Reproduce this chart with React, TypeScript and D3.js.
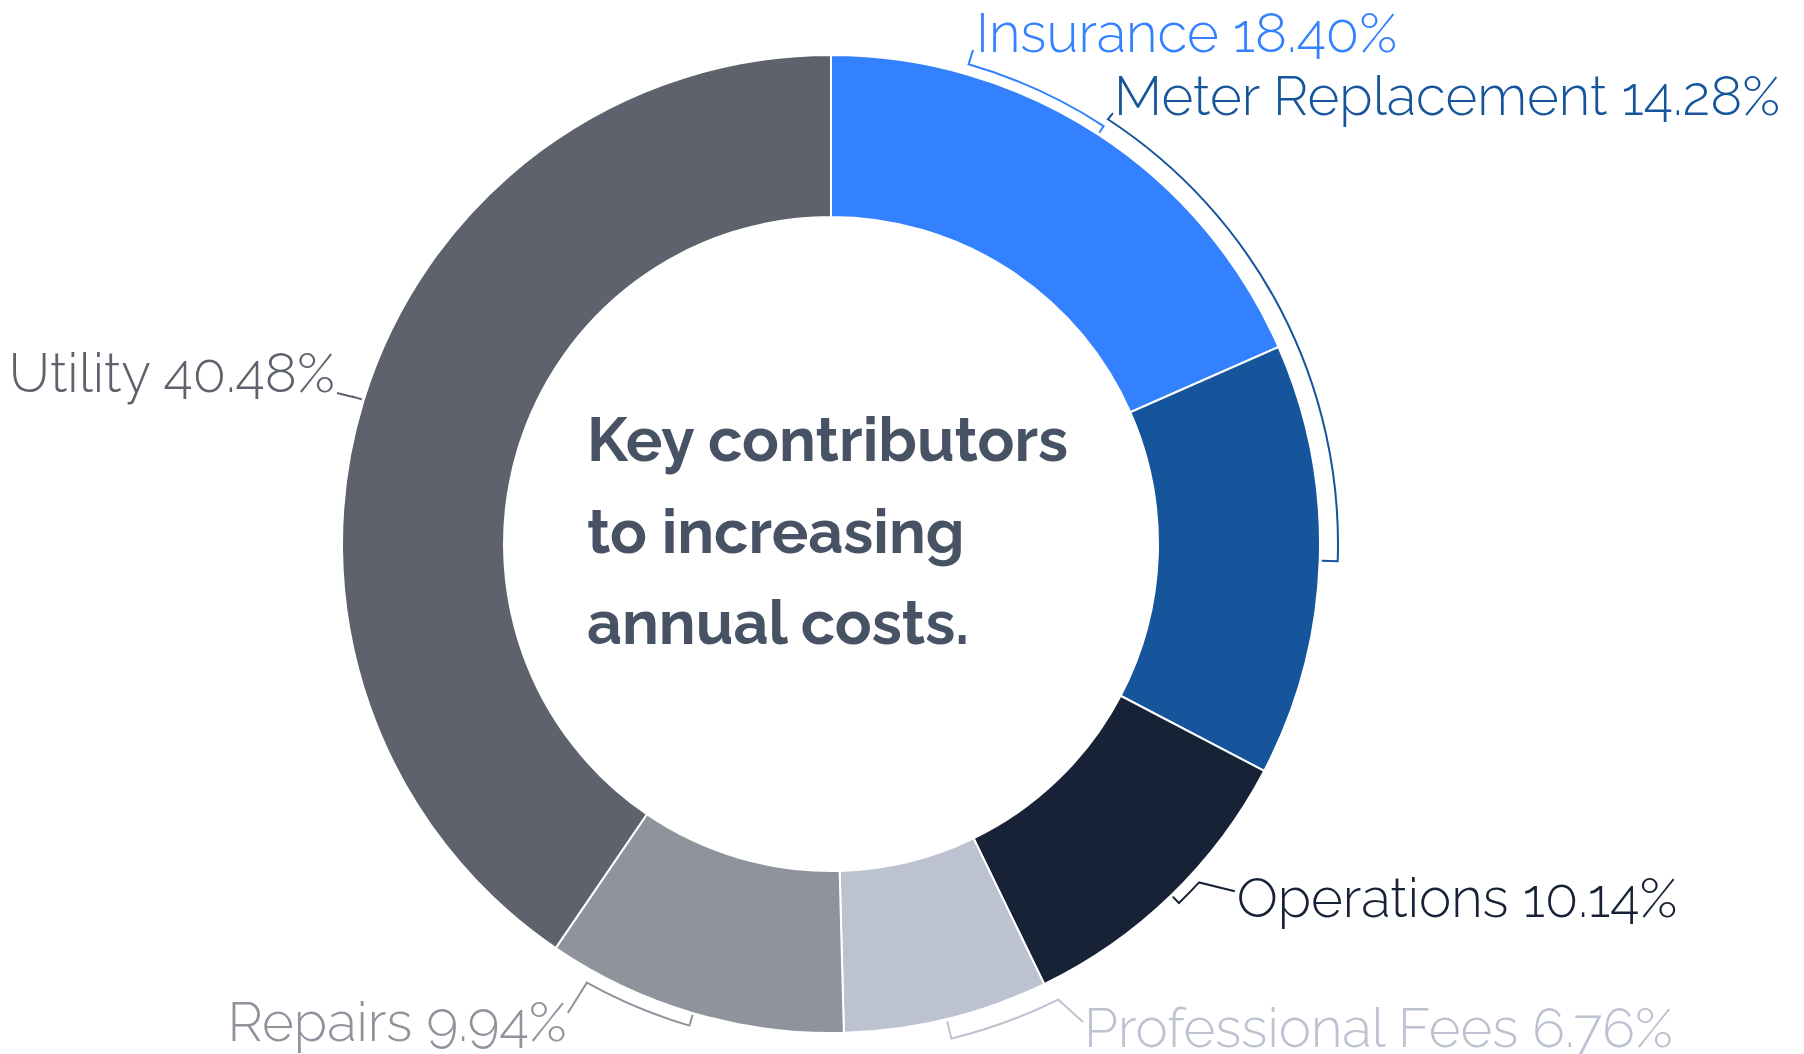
import React from "react";
import * as d3 from "d3";

const categories = ["Insurance", "Meter Replacement", "Operations", "Professional Fees", "Repairs", "Utility"];
const values = [18.40, 14.28, 10.14, 6.76, 9.94, 40.48];
const colors = ["#3381FF", "#16549B", "#172236", "#BCC2D0", "#8E939C", "#5D626C"];
const titleLines = ["Key contributors", "to increasing", "annual costs."];

// layout of the label brackets (angles in degrees, clockwise from top)
const anchorAngles = [16.0, 33.1, 132.6, 153.5, 209.1, 287.1];
const bracketRadii = [499, 507, 500, 509, 502, 500];
const connectorEnds = [
  [16.04, 514], [33.2, 515], [130.7, 532.6], [152.2, 540.4], [209.3, 537.7], [287.0, 516.6],
];
const textOffsets = [
  [3, 2, "start"], [1, 2, "start"], [2, 26, "start"], [1, 25, "start"], [-1, 28, "end"], [-2, -1, "end"],
];

const W = 1804, H = 1054;
const cx = 831, cy = 544;
const rOuter = 489, rInner = 327, tickInner = 491;

const rad = (d: number) => (d * Math.PI) / 180;
const pt = (aDeg: number, r: number): [number, number] => [r * Math.sin(rad(aDeg)), -r * Math.cos(rad(aDeg))];

export default function App() {
  const data = categories.map((c, i) => ({ name: c, value: values[i], color: colors[i] }));
  const pie = d3.pie<any>().sort(null).value((d) => d.value).startAngle(0).endAngle(2 * Math.PI);
  const arcs = pie(data);
  const arcGen = d3.arc<any>().innerRadius(rInner).outerRadius(rOuter);

  return (
    <svg width={W} height={H} style={{ position: "absolute", left: 0, top: 0, background: "#fff" }}>
      <g transform={`translate(${cx},${cy})`}>
        {arcs.map((a, i) => (
          <path key={i} d={arcGen(a) || ""} fill={a.data.color} stroke="#fff" strokeWidth={2} />
        ))}
        {arcs.map((a, i) => {
          const mid = ((a.startAngle + a.endAngle) / 2) * 180 / Math.PI;
          const anc = anchorAngles[i];
          const rb = bracketRadii[i];
          const path = d3.path();
          const t0 = pt(mid, tickInner);
          const t1 = pt(mid, rb);
          path.moveTo(t0[0], t0[1]);
          path.lineTo(t1[0], t1[1]);
          const a0 = rad(mid) - Math.PI / 2;
          const a1 = rad(anc) - Math.PI / 2;
          if (Math.abs(a1 - a0) > 1e-6) path.arc(0, 0, rb, a0, a1, a1 < a0);
          const ce = pt(connectorEnds[i][0], connectorEnds[i][1]);
          path.lineTo(ce[0], ce[1]);
          const off = textOffsets[i];
          return (
            <g key={"l" + i}>
              <path d={path.toString()} fill="none" stroke={a.data.color} strokeWidth={2} />
              <text
                x={ce[0] + (off[0] as number)}
                y={ce[1] + (off[1] as number)}
                textAnchor={off[2] as any}
                fill={a.data.color}
                fontFamily="Raleway, Lato, 'Open Sans', sans-serif"
                fontWeight={300}
                fontSize={54.5}
              >
                {a.data.name} {a.data.value.toFixed(2)}%
              </text>
            </g>
          );
        })}
      </g>
      {titleLines.map((t, i) => (
        <text
          key={t}
          x={587}
          y={461 + i * 91.5}
          fill="#475264"
          fontFamily="Raleway, Lato, 'Open Sans', sans-serif"
          fontWeight={700}
          fontSize={61}
        >
          {t}
        </text>
      ))}
    </svg>
  );
}
